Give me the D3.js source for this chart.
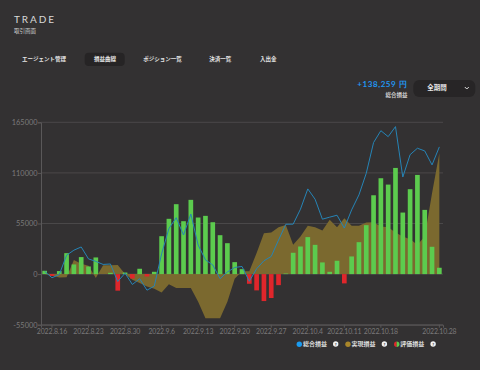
<!DOCTYPE html>
<html>
<head>
<meta charset="utf-8">
<script src="https://cdn.jsdelivr.net/npm/d3@7"></script>
<style>
  html, body { margin: 0; padding: 0; background: #333132; }
  svg { display: block; }
  text { font-family: "Noto Sans CJK JP", "Noto Sans", sans-serif; }
  .num { font-family: Lato, "DejaVu Sans", sans-serif; }
</style>
</head>
<body>
<svg id="chart" width="480" height="370"></svg>
<script>
// trading days shown on the category axis
var dates = [
  "2022.8.15", "2022.8.16", "2022.8.17", "2022.8.18", "2022.8.19",
  "2022.8.22", "2022.8.23", "2022.8.24", "2022.8.25", "2022.8.26",
  "2022.8.29", "2022.8.30", "2022.8.31", "2022.9.1", "2022.9.2",
  "2022.9.5", "2022.9.6", "2022.9.7", "2022.9.8", "2022.9.9",
  "2022.9.12", "2022.9.13", "2022.9.14", "2022.9.15", "2022.9.16",
  "2022.9.19", "2022.9.20", "2022.9.21", "2022.9.22", "2022.9.23",
  "2022.9.26", "2022.9.27", "2022.9.28", "2022.9.29", "2022.9.30",
  "2022.10.3", "2022.10.4", "2022.10.5", "2022.10.6", "2022.10.7",
  "2022.10.10", "2022.10.11", "2022.10.12", "2022.10.13", "2022.10.14",
  "2022.10.17", "2022.10.18", "2022.10.19", "2022.10.20", "2022.10.21",
  "2022.10.24", "2022.10.25", "2022.10.26", "2022.10.27", "2022.10.28"
];

// 総合損益 (line)
var totalPL = [
  3000, -4000, -500, 20500, 26000, 29500, 16500, 13800, 10500, 11000,
  -8100, 1000, -11300, -5000, -17500, -13000, 22000, 49500, 61300, 42500,
  65300, 31600, 15400, 10000, -5000, 2300, 7200, 8300, -7800, 5800,
  14500, 19200, 37000, 54200, 54300, 70600, 92600, 81400, 59700, 61900,
  64000, 50000, 69800, 86100, 109600, 143000, 155900, 149400, 160300, 105500,
  129800, 136800, 133900, 118700, 138259
];

// 実現損益 (area)
var realizedPL = [
  0, -1500, -3600, -3300, 15200, 11200, 9000, -4300, 9600, 9600,
  9800, 0, -6200, -9800, -13500, -16000, -20000, -10900, -15200, -15200,
  -15200, -30000, -48000, -48000, -48000, -30000, -5000, 3000, 3000, 22800,
  44500, 45200, 51000, 53500, 31800, 40900, 52500, 51000, 47400, 59000,
  51000, 60800, 52500, 52500, 56100, 56400, 51700, 51000, 45200, 40900,
  38000, 31800, 40900, 88000, 131300
];

// 評価損益 (bars)
var unrealizedPL = [
  3600, -2000, 3300, 22800, 10500, 18500, 8300, 18100, 0, 1400,
  -18000, 1700, -4800, 5800, -2600, 2500, 41200, 60100, 76000, 57500,
  80700, 61500, 63300, 56400, 42300, 33600, 13000, 5400, -10500, -17700,
  -29300, -26000, -12000, 600, 23200, 30000, 40200, 31800, 12700, 2500,
  14500, -10100, 19200, 34700, 53200, 85700, 104200, 97300, 115400, 66900,
  92300, 107800, 69800, 29700, 6900
];

var yTicks = [-55000, 0, 55000, 110000, 165000];
var xTickLabels = ["2022.8.16", "2022.8.23", "2022.8.30", "2022.9.6", "2022.9.13",
  "2022.9.20", "2022.9.27", "2022.10.4", "2022.10.11", "2022.10.18", "2022.10.28"];

var tabs = ["エージェント管理", "損益曲線", "ポジション一覧", "決済一覧", "入出金"];
var legendItems = ["総合損益", "実現損益", "評価損益"];

var svg = d3.select("#chart");

// ---- header ----
svg.append("text").attr("x", 14).attr("y", 22.5)
  .attr("class", "num")
  .style("font-size", "10px").style("letter-spacing", "1.9px")
  .attr("fill", "#d9d9d9").text("TRADE");
svg.append("text").attr("x", 14).attr("y", 33.3)
  .style("font-size", "5.5px").attr("fill", "#cfcfcf").text("取引画面");

// tabs
var tabX = [22, 94, 143.3, 209.3, 260];
svg.append("rect").attr("x", 84.7).attr("y", 52.7).attr("width", 40)
  .attr("height", 13.3).attr("rx", 4).attr("fill", "#262425");
tabs.forEach(function (t, i) {
  svg.append("text").attr("x", tabX[i]).attr("y", 61.4)
    .style("font-size", "5.5px").style("font-weight", "bold")
    .attr("fill", "#e6e6e6").text(t);
});

// total profit + period selector
svg.append("text").attr("x", 407.5).attr("y", 87.4).attr("text-anchor", "end")
  .attr("class", "num")
  .style("font-size", "8px").style("font-weight", "bold").style("letter-spacing", "0.6px")
  .attr("fill", "#2196f3").text("+138,259 円");
svg.append("text").attr("x", 407.5).attr("y", 96.5).attr("text-anchor", "end")
  .style("font-size", "5.5px").style("font-weight", "bold")
  .attr("fill", "#cfcfcf").text("総合損益");
svg.append("rect").attr("x", 413.3).attr("y", 80).attr("width", 62).attr("height", 17)
  .attr("rx", 6).attr("fill", "#272526");
svg.append("text").attr("x", 427.3).attr("y", 90.4)
  .style("font-size", "6.5px").style("font-weight", "bold")
  .attr("fill", "#e6e6e6").text("全期間");
svg.append("path").attr("d", "M464.8,87 L466.8,89 L468.8,87")
  .attr("fill", "none").attr("stroke", "#dddddd").attr("stroke-width", 1);

// ---- chart ----
var x = d3.scaleBand().domain(dates).range([41, 443]).paddingInner(0.36).paddingOuter(0.18);
var xc = function (d) { return x(d) + x.bandwidth() / 2; };
var y = d3.scaleLinear().domain([-55000, 165000]).range([324.7, 122.3]);

// gridlines
svg.append("g").selectAll("line").data(yTicks).join("line")
  .attr("x1", 41).attr("x2", 443)
  .attr("y1", function (d) { return y(d); }).attr("y2", function (d) { return y(d); })
  .attr("stroke", "#4a4849").attr("stroke-width", 1);

// realized area
var area = d3.area()
  .x(function (d, i) { return xc(dates[i]); })
  .y0(y(0))
  .y1(function (d) { return y(d); });
svg.append("path").datum(realizedPL).attr("d", area)
  .attr("fill", "#7b692f");

// unrealized bars
svg.append("g").selectAll("rect").data(unrealizedPL).join("rect")
  .attr("x", function (d, i) { return x(dates[i]); })
  .attr("width", x.bandwidth())
  .attr("y", function (d) { return y(Math.max(0, d)); })
  .attr("height", function (d) { return Math.abs(y(d) - y(0)); })
  .attr("fill", function (d) { return d >= 0 ? "#5ccb4e" : "#e0262b"; });

// total line
var line = d3.line()
  .x(function (d, i) { return xc(dates[i]); })
  .y(function (d) { return y(d); });
svg.append("path").datum(totalPL).attr("d", line)
  .attr("fill", "none").attr("stroke", "#2684b6").attr("stroke-width", 1);

// axes
var yAxis = svg.append("g").attr("transform", "translate(41,0)")
  .call(d3.axisLeft(y).tickValues(yTicks).tickSize(3).tickPadding(0.5)
    .tickFormat(function (d) { return d; }));
var xAxis = svg.append("g").attr("transform", "translate(0,324.7)")
  .call(d3.axisBottom(x).tickValues(xTickLabels).tickSize(3).tickPadding(1.5)
    .tickFormat(function (d) { return d; }));
[yAxis, xAxis].forEach(function (g) {
  g.selectAll("path, line").attr("stroke", "#5a5859");
  g.selectAll("text").attr("class", "num").attr("fill", "#7b797a")
    .style("font-size", "7.4px");
});
// date labels are a touch narrower in the original
xAxis.selectAll("text").style("font-size", "6.9px").style("letter-spacing", "-0.1px");

// ---- legend ----
var legendX = [299.3, 348, 396.7];
var legendG = svg.append("g");
legendItems.forEach(function (t, i) {
  var lx = legendX[i], ly = 344.3;
  if (i == 0) {
    legendG.append("circle").attr("cx", lx).attr("cy", ly).attr("r", 2.7).attr("fill", "#1a9bf0");
  } else if (i == 1) {
    legendG.append("circle").attr("cx", lx).attr("cy", ly).attr("r", 2.7).attr("fill", "#a9862a");
  } else {
    legendG.append("path").attr("d", "M" + lx + "," + (ly - 2.7) + " A2.7,2.7 0 0 0 " + lx + "," + (ly + 2.7) + " Z").attr("fill", "#e0262b");
    legendG.append("path").attr("d", "M" + lx + "," + (ly - 2.7) + " A2.7,2.7 0 0 1 " + lx + "," + (ly + 2.7) + " Z").attr("fill", "#5ccb4e");
  }
  legendG.append("text").attr("x", lx + 3.6).attr("y", ly + 2.1)
    .style("font-size", "6px").style("font-weight", "bold")
    .attr("fill", "#dedede").text(t);
  legendG.append("circle").attr("cx", lx + 36.4).attr("cy", ly - 0.3).attr("r", 2.7).attr("fill", "#f2f2f2");
  legendG.append("text").attr("x", lx + 36.4).attr("y", ly + 1.3).attr("text-anchor", "middle")
    .attr("class", "num").style("font-size", "4.2px").style("font-weight", "bold")
    .attr("fill", "#333132").text("?");
});
</script>
</body>
</html>
